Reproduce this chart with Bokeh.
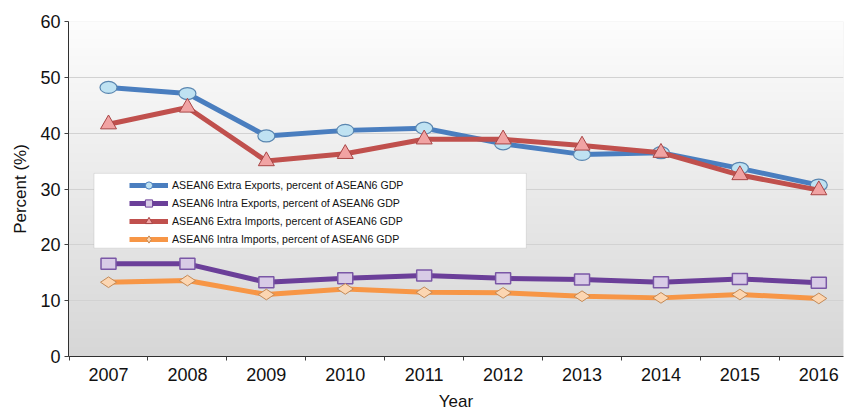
import numpy as np
from bokeh.plotting import figure
from bokeh.models import (FixedTicker, Legend, LegendItem, BoxAnnotation, ColumnDataSource)
from bokeh.embed import file_html
from bokeh.resources import INLINE

years = [2007, 2008, 2009, 2010, 2011, 2012, 2013, 2014, 2015, 2016]
extra_exports = [48.2, 47.1, 39.5, 40.5, 40.9, 38.1, 36.2, 36.5, 33.7, 30.7]
intra_exports = [16.6, 16.6, 13.3, 14.0, 14.5, 14.0, 13.8, 13.3, 13.9, 13.2]
extra_imports = [41.6, 44.6, 35.0, 36.3, 38.9, 38.9, 37.8, 36.5, 32.5, 29.8]
intra_imports = [13.3, 13.6, 11.1, 12.1, 11.5, 11.4, 10.8, 10.5, 11.1, 10.4]
y_ticks = [0, 10, 20, 30, 40, 50, 60]
labels = ["ASEAN6 Extra Exports, percent of ASEAN6 GDP",
          "ASEAN6 Intra Exports, percent of ASEAN6 GDP",
          "ASEAN6 Extra Imports, percent of ASEAN6 GDP",
          "ASEAN6 Intra Imports, percent of ASEAN6 GDP"]

FONT = "Liberation Sans"
x_lo, x_hi = 2006.493, 2016.313

p = figure(width=845, height=413, output_backend="svg", toolbar_location=None,
           x_range=(x_lo, x_hi), y_range=(0, 60),
           min_border_left=68, min_border_top=21, min_border_right=2, min_border_bottom=56,
           background_fill_color="#ebebeb", border_fill_color="white")
p.outline_line_color = None

# background gradient (white at top -> light grey at bottom)
n = 256
t = np.linspace(0, 1, n)  # 0 bottom, 1 top
top_c = np.array([253, 253, 253]); bot_c = np.array([215, 215, 215])
img = np.empty((n, 1), dtype=np.uint32)
view = img.view(dtype=np.uint8).reshape((n, 1, 4))
for i in range(n):
    c = bot_c + (top_c - bot_c) * t[i]
    view[i, 0, 0:3] = c.astype(np.uint8)
    view[i, 0, 3] = 255
bg = p.image_rgba(image=[img], x=x_lo, y=0, dw=x_hi - x_lo, dh=60)
bg.level = "image"

# grid
p.xgrid.grid_line_color = None
p.ygrid.grid_line_color = "#d2d2d2"
p.ygrid.grid_line_width = 1

# axes
p.xaxis.ticker = FixedTicker(ticks=years, minor_ticks=[y - 0.5 for y in years])
p.xaxis.major_tick_line_color = None
p.xaxis.minor_tick_in = 0
p.xaxis.minor_tick_out = 4
p.xaxis.minor_tick_line_color = "#404040"
p.xaxis.major_label_overrides = {y: str(y) for y in years}
p.yaxis.ticker = FixedTicker(ticks=y_ticks)
p.yaxis.major_tick_in = 0
p.yaxis.major_tick_out = 4
p.yaxis.major_tick_line_color = "#404040"
for ax in (p.xaxis[0], p.yaxis[0]):
    ax.axis_line_color = "#303030"
    ax.axis_line_width = 1
    ax.major_label_text_font = FONT
    ax.major_label_text_font_size = "18px"
    ax.major_label_text_color = "#111111"
    ax.axis_label_text_font = FONT
    ax.axis_label_text_font_size = "17px"
    ax.axis_label_text_font_style = "normal"
    ax.axis_label_text_color = "#111111"
p.xaxis.major_label_standoff = 5
p.xaxis.axis_label_standoff = 8
p.yaxis.major_label_standoff = 4
p.yaxis.axis_label_standoff = 7
p.xaxis.axis_label = "Year"
p.yaxis.axis_label = "Percent (%)"

src = ColumnDataSource(dict(x=years, ee=extra_exports, ie=intra_exports,
                            ei=extra_imports, ii=intra_imports))

# legend box
box = BoxAnnotation(left=2006.816, right=2012.294, bottom=19.41, top=32.8,
                    fill_color="white", fill_alpha=1.0, line_color="#a8a8a8", line_width=1,
                    level="annotation")
p.add_layout(box)

# series 1: blue
blue, blue_fill, blue_edge = "#4a7ebf", "#bfe2f2", "#5a86b0"
d1 = p.scatter("x", "ee", source=src, marker="circle", size=0, fill_color=blue_fill, line_color=blue)
l1 = p.line("x", "ee", source=src, line_color=blue, line_width=5)
p.ellipse("x", "ee", source=src, width=17, height=12, width_units="screen", height_units="screen",
          fill_color=blue_fill, line_color=blue_edge, line_width=1.2)

# series 2: purple
purple, purple_fill, purple_edge = "#6b3f99", "#d8cbe6", "#7a57a6"
d2 = p.scatter("x", "ie", source=src, marker="square", size=0, fill_color=purple_fill, line_color=purple)
l2 = p.line("x", "ie", source=src, line_color=purple, line_width=5)
p.rect("x", "ie", source=src, width=15, height=11, width_units="screen", height_units="screen",
       fill_color=purple_fill, line_color=purple_edge, line_width=1.5)

# series 3: red
red, red_fill, red_edge = "#c0504d", "#f1a3a3", "#a84545"
l3 = p.line("x", "ei", source=src, line_color=red, line_width=5)
m3 = p.scatter("x", "ei", source=src, marker="triangle", size=16,
               fill_color=red_fill, line_color=red_edge, line_width=1)

# series 4: orange
orange, orange_fill, orange_edge = "#f79646", "#fcd6b2", "#c38a58"
l4 = p.line("x", "ii", source=src, line_color=orange, line_width=5)
m4 = p.scatter("x", "ii", source=src, marker="diamond", size=16, angle=np.pi / 2,
               fill_color=orange_fill, line_color=orange_edge, line_width=1)

legend = Legend(items=[LegendItem(label=labels[0], renderers=[l1, d1]),
                       LegendItem(label=labels[1], renderers=[l2, d2]),
                       LegendItem(label=labels[2], renderers=[l3, m3]),
                       LegendItem(label=labels[3], renderers=[l4, m4])],
                location=(61, 108), orientation="vertical",
                border_line_color=None, background_fill_alpha=0,
                padding=0, margin=0, spacing=0,
                glyph_width=39, glyph_height=18, label_height=18, label_standoff=4,
                label_text_font=FONT, label_text_font_size="10.6px", label_text_color="#111111")
p.add_layout(legend)

open("out.html", "w").write(file_html(p, INLINE))
